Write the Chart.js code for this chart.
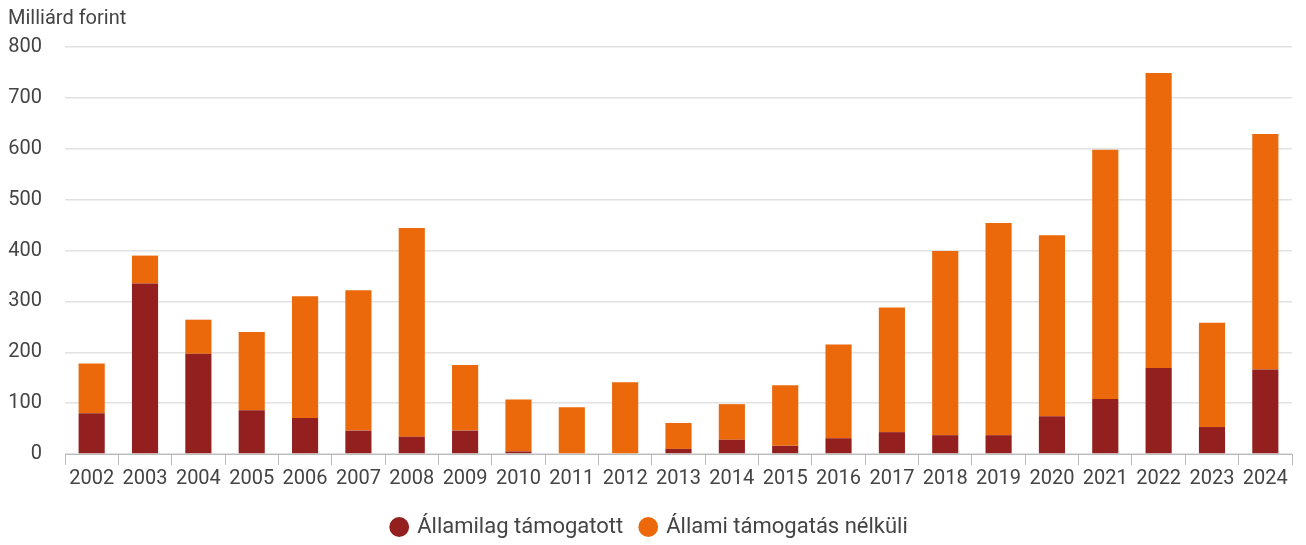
<!DOCTYPE html>
<html>
<head>
<meta charset="utf-8">
<script src="https://cdn.jsdelivr.net/npm/chart.js@4/dist/chart.umd.min.js"></script>
<style>
  html, body { margin: 0; padding: 0; background: #fff; }
  #wrap { width: 1306px; height: 545px; }
</style>
</head>
<body>
<div id="wrap"><canvas id="chart"></canvas></div>
<script>
const years = ['2002','2003','2004','2005','2006','2007','2008','2009','2010','2011','2012','2013',
  '2014','2015','2016','2017','2018','2019','2020','2021','2022','2023','2024'];
// államilag támogatott (alsó, bordó)
const supported = [80, 335, 197, 86, 71, 46, 34, 46, 5, 0, 0, 10, 28, 16, 31, 43, 37, 37, 74, 108, 169, 53, 166];
// állami támogatás nélküli (felső, narancs)
const unsupported = [98, 55, 67, 154, 239, 276, 410, 129, 102, 92, 141, 51, 70, 119, 184, 245, 362, 417, 356, 490, 580, 205, 463];
const yTicks = [0, 100, 200, 300, 400, 500, 600, 700, 800];

const textColor = '#444';
Chart.defaults.font.family = 'Roboto, sans-serif';

new Chart(document.getElementById('chart'), {
  type: 'bar',
  data: {
    labels: years,
    datasets: [
      { label: 'Államilag támogatott', data: supported, backgroundColor: '#93201f' },
      { label: 'Állami támogatás nélküli', data: unsupported, backgroundColor: '#eb690b' }
    ]
  },
  options: {
    responsive: true,
    maintainAspectRatio: false,
    animation: false,
    layout: { padding: { left: 8, right: 14, top: 0, bottom: -3 } },
    datasets: { bar: { categoryPercentage: 1, barPercentage: 0.49 } },
    plugins: {
      title: {
        display: true,
        text: 'Milliárd forint',
        align: 'start',
        color: textColor,
        font: { size: 20, weight: 'normal' },
        padding: { top: 7, bottom: 16 }
      },
      legend: {
        position: 'bottom',
        labels: {
          usePointStyle: true,
          pointStyle: 'circle',
          boxWidth: 14,
          boxHeight: 14,
          padding: 18,
          color: textColor,
          font: { size: 22 }
        }
      },
      tooltip: { enabled: false }
    },
    scales: {
      x: {
        stacked: true,
        afterFit: axis => { axis.height += 5; },
        grid: { drawOnChartArea: false, drawTicks: true, tickLength: 11, color: '#bbb' },
        border: { color: '#bbb', width: 1 },
        ticks: { color: textColor, font: { size: 20 }, padding: 2, maxRotation: 0, autoSkip: false }
      },
      y: {
        stacked: true,
        min: 0,
        max: 800,
        afterBuildTicks: axis => { axis.ticks = yTicks.map(v => ({ value: v })); },
        afterFit: axis => { axis.width = 57; },
        grid: { color: '#e2e2e2', lineWidth: 1.5, drawTicks: false },
        border: { display: false },
        ticks: { color: textColor, font: { size: 20 }, padding: 23 }
      }
    }
  }
});
</script>
</body>
</html>
